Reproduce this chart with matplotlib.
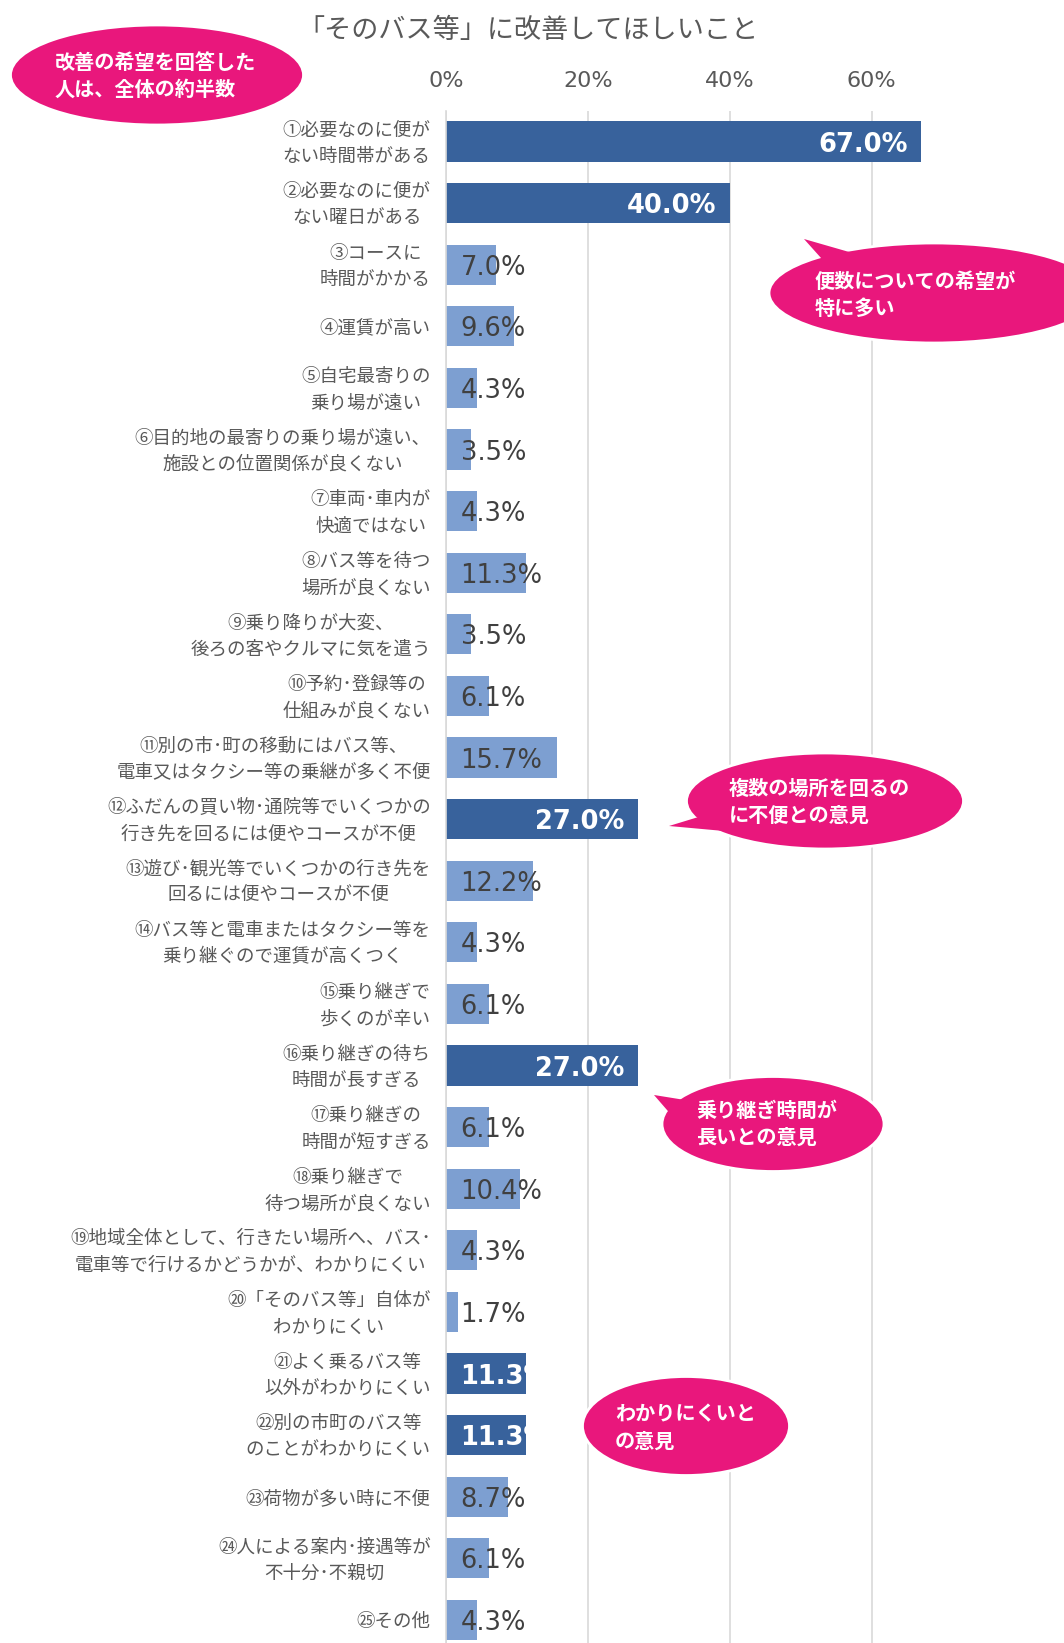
import matplotlib
matplotlib.use("Agg")
import matplotlib.pyplot as plt
from matplotlib.patches import Ellipse, Polygon
from matplotlib.ticker import FuncFormatter
from matplotlib.transforms import ScaledTranslation

plt.rcParams['font.family'] = ['Noto Sans CJK JP', 'DejaVu Sans']

title = "「そのバス等」に改善してほしいこと"

labels = [
    "①必要なのに便が\nない時間帯がある",
    "②必要なのに便が\nない曜日がある",
    "③コースに\n時間がかかる",
    "④運賃が高い",
    "⑤自宅最寄りの\n乗り場が遠い",
    "⑥目的地の最寄りの乗り場が遠い、\n施設との位置関係が良くない",
    "⑦車両･車内が\n快適ではない",
    "⑧バス等を待つ\n場所が良くない",
    "⑨乗り降りが大変、\n後ろの客やクルマに気を遣う",
    "⑩予約･登録等の\n仕組みが良くない",
    "⑪別の市･町の移動にはバス等、\n電車又はタクシー等の乗継が多く不便",
    "⑫ふだんの買い物･通院等でいくつかの\n行き先を回るには便やコースが不便",
    "⑬遊び･観光等でいくつかの行き先を\n回るには便やコースが不便",
    "⑭バス等と電車またはタクシー等を\n乗り継ぐので運賃が高くつく",
    "⑮乗り継ぎで\n歩くのが辛い",
    "⑯乗り継ぎの待ち\n時間が長すぎる",
    "⑰乗り継ぎの\n時間が短すぎる",
    "⑱乗り継ぎで\n待つ場所が良くない",
    "⑲地域全体として、行きたい場所へ、バス･\n電車等で行けるかどうかが、わかりにくい",
    "⑳「そのバス等」自体が\nわかりにくい",
    "㉑よく乗るバス等\n以外がわかりにくい",
    "㉒別の市町のバス等\nのことがわかりにくい",
    "㉓荷物が多い時に不便",
    "㉔人による案内･接遇等が\n不十分･不親切",
    "㉕その他",
]

values = [67.0, 40.0, 7.0, 9.6, 4.3, 3.5, 4.3, 11.3, 3.5, 6.1, 15.7, 27.0, 12.2,
          4.3, 6.1, 27.0, 6.1, 10.4, 4.3, 1.7, 11.3, 11.3, 8.7, 6.1, 4.3]

# highlighted items (dark bars)
highlight = [1, 2, 12, 16, 21, 22]

x_ticks = [0, 20, 40, 60]

# callouts: text, centre, width, height (pixels), text left/centre y, tail polygon
callouts = [
    ("改善の希望を回答した\n人は、全体の約半数", (157, 75), 293, 100, (55, 76), None),
    ("便数についての希望が\n特に多い", (934, 293), 330, 100, (815, 295),
     [(804, 239), (830, 268), (870, 258)]),
    ("複数の場所を回るの\nに不便との意見", (825, 801), 277, 96, (729, 802),
     [(669, 826), (705, 815), (735, 832)]),
    ("乗り継ぎ時間が\n長いとの意見", (773, 1124), 222, 95, (696, 1124),
     [(654, 1095), (685, 1100), (680, 1125)]),
    ("わかりにくいと\nの意見", (686, 1426), 207, 99, (615, 1428), None),
]

DARK = "#38629C"
LIGHT = "#7D9FD1"
PINK = "#E9177C"
GREY = "#595959"

W, H = 1064, 1643
fig = plt.figure(figsize=(W / 100, H / 100), dpi=100)

ax_top = 110.7
ax = fig.add_axes([446 / W, 0, (70 * 7.095) / W, (H - ax_top) / H])

y = list(range(len(values)))
colors = [DARK if (i + 1) in highlight else LIGHT for i in y]
bars = ax.barh(y, values, height=0.65, color=colors, zorder=2)

ax.set_xlim(0, 70)
ax.set_ylim(-0.5 + (H - ax_top) / 61.6, -0.5)

ax.set_yticks(y)
ax.set_yticklabels(labels, fontsize=13.3, color=GREY, linespacing=1.6,
                   multialignment='center')
ax.tick_params(axis='y', length=0, pad=11)
# two-line labels sit a little high in the original
shift_up = ScaledTranslation(0, 0.04, fig.dpi_scale_trans)
for t in ax.get_yticklabels():
    if "\n" in t.get_text():
        t.set_transform(t.get_transform() + shift_up)

ax.xaxis.tick_top()
ax.set_xticks(x_ticks)
ax.xaxis.set_major_formatter(FuncFormatter(lambda v, p: f"{v:.0f}%"))
ax.tick_params(axis='x', length=0, pad=14, labelsize=16, labelcolor=GREY)
for t in ax.get_xticklabels():
    t.set_fontfamily('DejaVu Sans')

ax.grid(axis='x', color='#D9D9D9', linewidth=1.2, zorder=0)
for s in ['top', 'right', 'bottom']:
    ax.spines[s].set_visible(False)
ax.spines['left'].set_color('#D9D9D9')
ax.spines['left'].set_linewidth(1.2)

fig.canvas.draw()
renderer = fig.canvas.get_renderer()
x0_px = ax.transData.transform((0, 0))[0]

for i, (v, b) in enumerate(zip(values, bars)):
    txt = f"{v:.1f}%"
    if (i + 1) in highlight:
        t = ax.annotate(txt, xy=(v, i), xytext=(-9.4, -2.4), textcoords='offset points',
                        ha='right', va='center', color='white', fontsize=18.5,
                        fontweight='bold', fontfamily='DejaVu Sans', zorder=3)
        ext = t.get_window_extent(renderer)
        if ext.x0 < x0_px + 12:
            t.remove()
            t = ax.annotate(txt, xy=(0, i), xytext=(10.5, -2.4), textcoords='offset points',
                            ha='left', va='center', color='white', fontsize=18.5,
                            fontweight='bold', fontfamily='DejaVu Sans', zorder=3)
            t.set_clip_path(b)
    else:
        ax.annotate(txt, xy=(0, i), xytext=(10.5, -2.2), textcoords='offset points',
                    ha='left', va='center', color='#404040', fontsize=18.5,
                    fontfamily='DejaVu Sans', zorder=3)

# overlay for title and callouts in pixel coordinates
ov = fig.add_axes([0, 0, 1, 1], zorder=5)
ov.set_xlim(0, W)
ov.set_ylim(H, 0)
ov.axis('off')

ov.text(528, 31, title, ha='center', va='center', fontsize=19.5, color=GREY)

for text, c, w, h, tpos, tail in callouts:
    ov.add_patch(Ellipse(c, w, h, facecolor=PINK, edgecolor='white', linewidth=2))
    if tail:
        ov.add_patch(Polygon(tail, closed=True, facecolor=PINK, edgecolor='none'))
    ov.text(tpos[0], tpos[1], text, ha='left', va='center', color='white',
            fontsize=14.5, fontweight='bold', linespacing=1.38)

fig.savefig("out.png", dpi=100)
